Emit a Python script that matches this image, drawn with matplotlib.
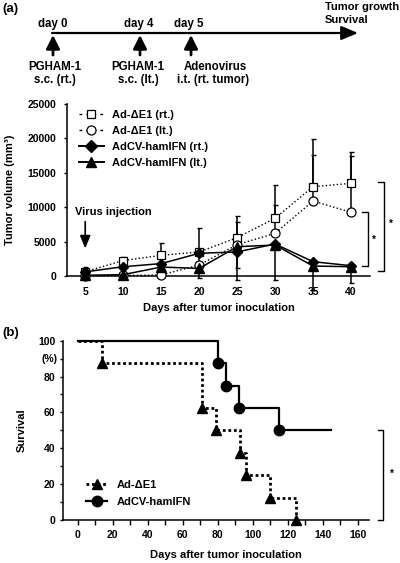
import matplotlib
matplotlib.use('Agg')
import matplotlib.pyplot as plt
from matplotlib.lines import Line2D
from matplotlib.ticker import MultipleLocator

plt.rcParams['font.family'] = ['Liberation Sans', 'DejaVu Sans']
plt.rcParams['font.weight'] = 'bold'
plt.rcParams['axes.labelweight'] = 'bold'

# ---------------- data: panel (a) ----------------
days = [5, 10, 15, 20, 25, 30, 35, 40]
ad_rt = [620, 2250, 3000, 3500, 5570, 8390, 12980, 13470]
ad_rt_err = [730, 500, 1750, 3500, 3150, 4840, 7000, 4600]
ad_lt = [50, 80, 150, 1600, 4550, 6200, 10900, 9260]
ad_lt_err = [150, 150, 300, 1500, 3350, 4100, 6700, 8240]
ifn_rt = [600, 1350, 1800, 3300, 3500, 4650, 2080, 1500]
ifn_rt_err = [0, 0, 0, 0, 4100, 5300, 4100, 2500]
ifn_lt = [100, 200, 1300, 1100, 4260, 4500, 1450, 1350]
ifn_lt_err = [0, 0, 0, 1350, 3160, 0, 0, 0]

labels_a = ['Ad-\u0394E1 (rt.)', 'Ad-\u0394E1 (lt.)', 'AdCV-hamIFN (rt.)', 'AdCV-hamIFN (lt.)']

# ---------------- data: panel (b) ----------------
surv_ad_t = [0, 14, 71, 79, 93, 96, 110, 125]
surv_ad_s = [100, 87.5, 62.5, 50, 37.5, 25, 12.5, 0]
surv_ifn_t = [0, 80, 85, 92, 115, 145]
surv_ifn_s = [100, 87.5, 75, 62.5, 50, 50]
labels_b = ['Ad-\u0394E1', 'AdCV-hamIFN']

W, H = 400, 563
fig = plt.figure(figsize=(W / 100, H / 100), dpi=100)

# ---------------- timeline (schematic, pixel coordinates) ----------------
axt = fig.add_axes([0, 0, 1, 1])
axt.set_xlim(0, W)
axt.set_ylim(H, 0)
axt.axis('off')
fs_t = 8.3
axt.annotate('', xy=(358, 33), xytext=(52, 33),
             arrowprops=dict(arrowstyle='-|>,head_length=1.0,head_width=0.42',
                             lw=1.6, color='k', mutation_scale=10, shrinkA=0, shrinkB=0))
for x in (53, 140, 191):
    axt.annotate('', xy=(x, 35), xytext=(x, 55),
                 arrowprops=dict(arrowstyle='-|>,head_length=0.9,head_width=0.45',
                                 lw=2.0, color='k', mutation_scale=9, shrinkA=0, shrinkB=0))
axt.text(53, 24, 'day 0', ha='center', va='center', fontsize=fs_t, fontweight='bold')
axt.text(139, 24, 'day 4', ha='center', va='center', fontsize=fs_t, fontweight='bold')
axt.text(189, 24, 'day 5', ha='center', va='center', fontsize=fs_t, fontweight='bold')
axt.text(55, 67, 'PGHAM-1', ha='center', va='center', fontsize=fs_t, fontweight='bold')
axt.text(55, 80, 's.c. (rt.)', ha='center', va='center', fontsize=fs_t, fontweight='bold')
axt.text(138, 67, 'PGHAM-1', ha='center', va='center', fontsize=fs_t, fontweight='bold')
axt.text(138, 80, 's.c. (lt.)', ha='center', va='center', fontsize=fs_t, fontweight='bold')
axt.text(215, 67, 'Adenovirus', ha='center', va='center', fontsize=fs_t, fontweight='bold')
axt.text(213, 80, 'i.t. (rt. tumor)', ha='center', va='center', fontsize=fs_t, fontweight='bold')
axt.text(325, 7, 'Tumor growth', ha='left', va='center', fontsize=8, fontweight='bold')
axt.text(325, 20, 'Survival', ha='left', va='center', fontsize=8, fontweight='bold')
axt.text(2, 9, '(a)', ha='left', va='center', fontsize=9.5, fontweight='bold')
axt.text(2, 333, '(b)', ha='left', va='center', fontsize=9.5, fontweight='bold')

# ---------------- panel (a) ----------------
axa = fig.add_axes([67 / W, 1 - 276 / H, 303 / W, 172 / H])
axa.set_xlim(2.6, 42.5)
axa.set_ylim(0, 25000)
for s in ('top', 'right'):
    axa.spines[s].set_visible(False)
for s in ('left', 'bottom'):
    axa.spines[s].set_linewidth(1.1)
axa.set_xticks(days)
axa.set_yticks([0, 5000, 10000, 15000, 20000, 25000])
axa.tick_params(axis='x', length=0, pad=8, labelsize=7.5)
axa.tick_params(axis='y', length=2.5, width=1, direction='out', pad=5, labelsize=7.5)
for lab in axa.get_xticklabels() + axa.get_yticklabels():
    lab.set_fontweight('bold')

ekw = dict(ecolor='k', elinewidth=1.1, capsize=1.8, capthick=1.0, fmt='none', zorder=2)
e1 = axa.errorbar(days, ad_rt, yerr=[[0] * len(days), ad_rt_err], **ekw)
e2 = axa.errorbar(days, ad_lt, yerr=[[0] * len(days), ad_lt_err], **ekw)
e3 = axa.errorbar(days, ifn_rt, yerr=[ifn_rt_err, [0] * len(days)], **ekw)
e4 = axa.errorbar(days, ifn_lt, yerr=[ifn_lt_err, [0] * len(days)], **ekw)
for e in (e1, e2, e3, e4):
    for art in list(e.lines[1]) + list(e.lines[2]):
        art.set_clip_on(False)

l1, = axa.plot(days, ad_rt, ls=':', lw=1.0, color='k', marker='s', ms=6,
               mfc='white', mec='k', mew=0.9, label=labels_a[0], zorder=3, clip_on=False)
l2, = axa.plot(days, ad_lt, ls=':', lw=1.0, color='k', marker='o', ms=6.5,
               mfc='white', mec='k', mew=0.9, label=labels_a[1], zorder=3, clip_on=False)
l3, = axa.plot(days, ifn_rt, ls='-', lw=1.1, color='k', marker='D', ms=5.5,
               mfc='k', mec='k', label=labels_a[2], zorder=4, clip_on=False)
l4, = axa.plot(days, ifn_lt, ls='-', lw=1.1, color='k', marker='^', ms=6.5,
               mfc='k', mec='k', label=labels_a[3], zorder=4, clip_on=False)

ha_leg = [
    Line2D([], [], ls=(0, (2, 3)), lw=1.0, color='k', marker='s', ms=6, mfc='white', mew=0.9),
    Line2D([], [], ls=(0, (2, 3)), lw=1.0, color='k', marker='o', ms=6.5, mfc='white', mew=0.9),
    Line2D([], [], ls='-', lw=1.4, color='k', marker='D', ms=6),
    Line2D([], [], ls='-', lw=1.4, color='k', marker='^', ms=7),
]
leg = axa.legend(ha_leg, labels_a, loc='upper left', bbox_to_anchor=(0.04, 0.965),
                 frameon=False, fontsize=8, handlelength=2.2, handletextpad=0.75,
                 labelspacing=0.55, borderpad=0, borderaxespad=0)
for t in leg.get_texts():
    t.set_fontweight('bold')

# virus injection annotation
axa.text(3.7, 9300, 'Virus injection', ha='left', va='center', fontsize=8, fontweight='bold')
axa.annotate('', xy=(5, 4000), xytext=(5, 7900),
             arrowprops=dict(arrowstyle='-|>,head_length=1.1,head_width=0.45',
                             lw=1.2, color='k', mutation_scale=7, shrinkA=0, shrinkB=0))

axa.text(-0.188, 0.5, 'Tumor volume (mm\u00b3)', rotation=90, ha='center', va='center',
         transform=axa.transAxes, fontsize=8, fontweight='bold')
axa.text(0.5, -0.186, 'Days after tumor inoculation', ha='center', va='center',
         transform=axa.transAxes, fontsize=8, fontweight='bold')

# significance brackets (a)
bkw = dict(color='k', lw=1.0, clip_on=False)
axa.plot([41.4, 42.2, 42.2, 41.4], [9260, 9260, 1500, 1500], **bkw)
axa.text(43.0, 5300, '*', ha='center', va='center', fontsize=7, fontweight='bold')
axa.plot([43.5, 44.3, 44.3, 43.5], [13700, 13700, 770, 770], **bkw)
axa.text(45.3, 7600, '*', ha='center', va='center', fontsize=7, fontweight='bold')

# ---------------- panel (b) ----------------
axb = fig.add_axes([63 / W, 1 - 520 / H, 306 / W, 179.3 / H])
axb.set_xlim(-8.4, 166.5)
axb.set_ylim(0, 100)
for s in ('top', 'right'):
    axb.spines[s].set_visible(False)
for s in ('left', 'bottom'):
    axb.spines[s].set_linewidth(1.1)
axb.set_xticks(range(0, 161, 20))
axb.set_yticks(range(0, 101, 20))
axb.xaxis.set_minor_locator(MultipleLocator(10))
axb.yaxis.set_minor_locator(MultipleLocator(10))
axb.tick_params(axis='x', which='both', length=3.5, width=1, direction='out', pad=4, labelsize=7.5)
axb.tick_params(axis='y', which='both', length=2.5, width=1, direction='out', pad=3, labelsize=7.5)
for lab in axb.get_xticklabels() + axb.get_yticklabels():
    lab.set_fontweight('bold')

axb.step(surv_ad_t, surv_ad_s, where='post', ls=(0, (1, 1)), lw=2.0, color='k', clip_on=False)
axb.plot(surv_ad_t[1:], surv_ad_s[1:], ls='none', marker='^', ms=7.5, color='k', clip_on=False, zorder=4)
axb.step(surv_ifn_t, surv_ifn_s, where='post', ls='-', lw=1.6, color='k', clip_on=False)
axb.plot(surv_ifn_t[1:-1], surv_ifn_s[1:-1], ls='none', marker='o', ms=7.5, color='k', clip_on=False, zorder=4)

hb_leg = [
    Line2D([], [], ls=(0, (1, 1)), lw=2.0, color='k', marker='^', ms=7.5),
    Line2D([], [], ls='-', lw=1.6, color='k', marker='o', ms=7.5),
]
legb = axb.legend(hb_leg, labels_b, loc='upper left', bbox_to_anchor=(0.075, 0.225),
                  frameon=False, fontsize=8, handlelength=1.9, handletextpad=0.85,
                  labelspacing=0.65, borderpad=0, borderaxespad=0)
for t in legb.get_texts():
    t.set_fontweight('bold')

axb.text(-0.017, 90, '(%)', ha='right', va='center', transform=axb.get_yaxis_transform(),
         fontsize=7.5, fontweight='bold')
axb.text(-0.134, 0.5, 'Survival', rotation=90, ha='center', va='center',
         transform=axb.transAxes, fontsize=8, fontweight='bold')
axb.text(0.533, -0.195, 'Days after tumor inoculation', ha='center', va='center',
         transform=axb.transAxes, fontsize=8, fontweight='bold')

axb.plot([171.6, 174.6, 174.6, 171.6], [50, 50, 0, 0], **bkw)
axb.text(179.6, 26, '*', ha='center', va='center', fontsize=7, fontweight='bold')

fig.savefig('out.png', dpi=100)
